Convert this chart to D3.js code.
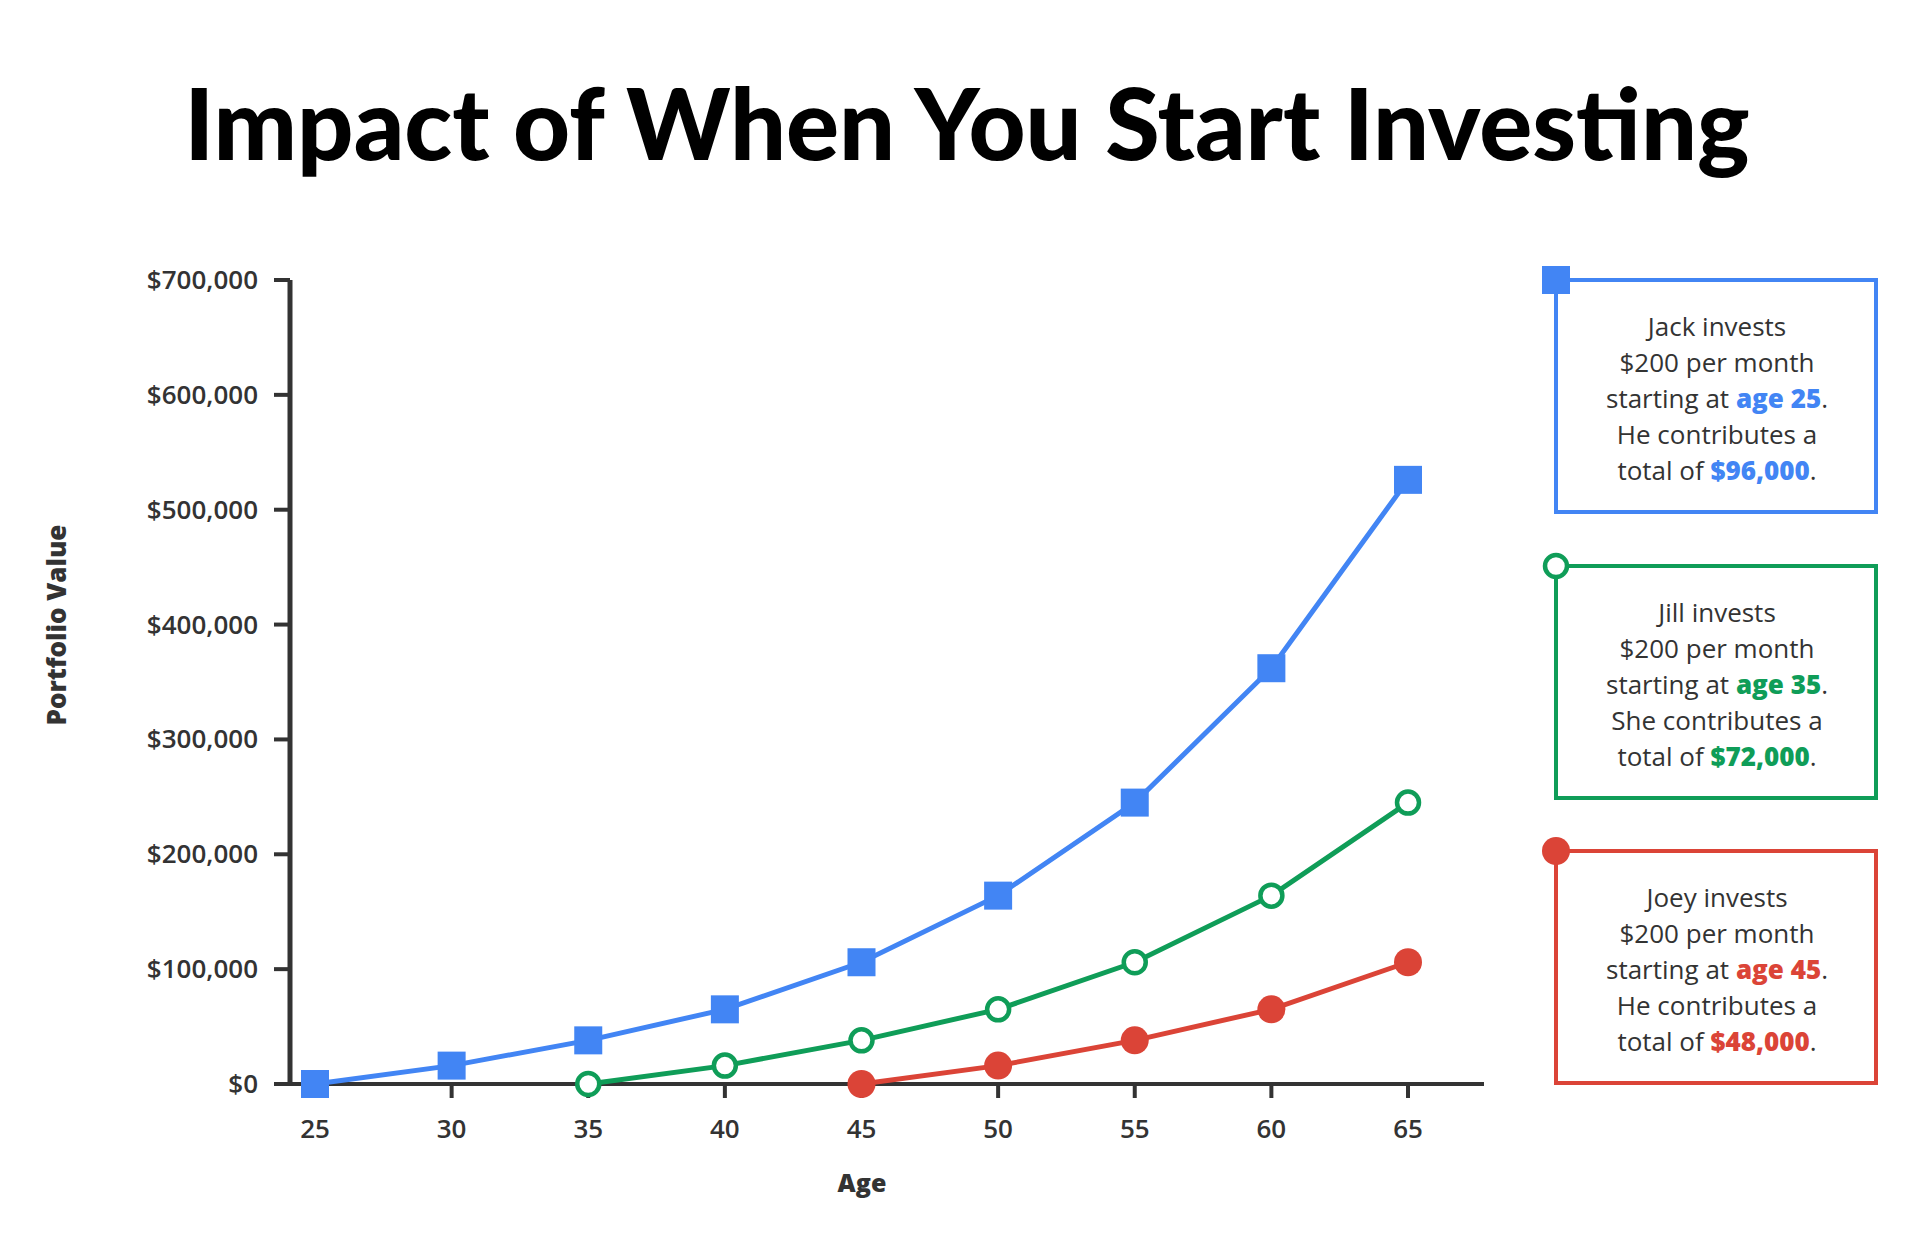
<!DOCTYPE html>
<html><head><meta charset="utf-8">
<script src="https://cdn.jsdelivr.net/npm/d3@7"></script>
<style>body{margin:0;background:#fff}text{font-family:"Open Sans",Lato,sans-serif}</style>
</head><body><svg id="c" width="1920" height="1252"></svg>
<script>
const ages = [25, 30, 35, 40, 45, 50, 55, 60, 65]
const jack = [0, 16000, 38000, 65000, 106000, 164000, 245000, 362000, 526000]
const jill = [null, null, 0, 16000, 38000, 65000, 106000, 164000, 245000]
const joey = [null, null, null, null, 0, 16000, 38000, 65000, 106000]
const yTicks = [0, 100000, 200000, 300000, 400000, 500000, 600000, 700000]

const svg = d3.select("#c")
const dark = "#333"
const x = d3.scaleLinear().domain([25, 65]).range([315, 1408])
const y = d3.scaleLinear().domain([0, 700000]).range([1084, 280])

svg.append("text").attr("x", 967).attr("y", 160).attr("text-anchor", "middle")
   .attr("font-size", 99).attr("font-weight", 900).attr("fill", "#000")
   .style("font-family", "Lato, sans-serif")
   .text("Impact of When You Start Investing")

// axes
svg.append("line").attr("x1", 290).attr("x2", 290).attr("y1", 280).attr("y2", 1086)
   .attr("stroke", dark).attr("stroke-width", 5)
svg.append("line").attr("x1", 288).attr("x2", 1484).attr("y1", 1084).attr("y2", 1084)
   .attr("stroke", dark).attr("stroke-width", 4)
yTicks.forEach(t => {
    svg.append("line").attr("x1", 274).attr("x2", 290).attr("y1", y(t)).attr("y2", y(t))
       .attr("stroke", dark).attr("stroke-width", 4)
    svg.append("text").attr("x", 258).attr("y", y(t) + 9).attr("text-anchor", "end")
       .attr("font-size", 26).attr("font-weight", 600).attr("fill", dark)
       .text("$" + d3.format(",")(t))
})
ages.forEach(a => {
    svg.append("line").attr("x1", x(a)).attr("x2", x(a)).attr("y1", 1084).attr("y2", 1098)
       .attr("stroke", dark).attr("stroke-width", 4)
    svg.append("text").attr("x", x(a)).attr("y", 1138).attr("text-anchor", "middle")
       .attr("font-size", 26).attr("font-weight", 600).attr("fill", dark).text(a)
})
svg.append("text").attr("x", 862).attr("y", 1192).attr("text-anchor", "middle")
   .attr("font-size", 25).attr("font-weight", 800).attr("fill", dark).text("Age")
svg.append("text").attr("transform", "translate(66,625) rotate(-90)").attr("text-anchor", "middle")
   .attr("font-size", 26).attr("font-weight", 800).attr("fill", dark).text("Portfolio Value")

const series = [
    {vals: jack, color: "#4285F4", shape: "square"},
    {vals: jill, color: "#0F9D58", shape: "open"},
    {vals: joey, color: "#DB4437", shape: "dot"}
]
const line = d3.line().defined(d => d[1] !== null).x(d => x(d[0])).y(d => y(d[1]))

function marker(g, cx, cy, s) {
    if (s.shape == "square") {
        g.append("rect").attr("x", cx - 14).attr("y", cy - 14).attr("width", 28).attr("height", 28).attr("fill", s.color)
    } else if (s.shape == "open") {
        g.append("circle").attr("cx", cx).attr("cy", cy).attr("r", 11).attr("fill", "#fff")
         .attr("stroke", s.color).attr("stroke-width", 4.5)
    } else {
        g.append("circle").attr("cx", cx).attr("cy", cy).attr("r", 14).attr("fill", s.color)
    }
}

series.forEach(s => {
    const pts = ages.map((a, i) => [a, s.vals[i]])
    svg.append("path").attr("d", line(pts)).attr("fill", "none")
       .attr("stroke", s.color).attr("stroke-width", 5)
    pts.filter(p => p[1] !== null).forEach(p => marker(svg, x(p[0]), y(p[1]), s))
})

// annotation boxes
const notes = [
    {name: "Jack", pron: "He", age: "age 25", total: "$96,000", top: 280},
    {name: "Jill", pron: "She", age: "age 35", total: "$72,000", top: 566},
    {name: "Joey", pron: "He", age: "age 45", total: "$48,000", top: 851}
]
notes.forEach((n, i) => {
    const s = series[i]
    svg.append("rect").attr("x", 1556).attr("y", n.top).attr("width", 320).attr("height", 232)
       .attr("fill", "none").attr("stroke", s.color).attr("stroke-width", 4)
    marker(svg, 1556, n.top, s)
    const lines = [
        [[n.name + " invests", false]],
        [["$200 per month", false]],
        [["starting at ", false], [n.age, true], [".", false]],
        [[n.pron + " contributes a", false]],
        [["total of ", false], [n.total, true], [".", false]]
    ]
    lines.forEach((parts, j) => {
        const t = svg.append("text").attr("x", 1717).attr("y", n.top + 56 + j * 36)
           .attr("text-anchor", "middle").attr("font-size", 26).attr("fill", dark)
        parts.forEach(p => t.append("tspan").text(p[0])
           .attr("font-weight", p[1] ? 800 : 400).attr("fill", p[1] ? s.color : dark))
    })
})
</script></body></html>
